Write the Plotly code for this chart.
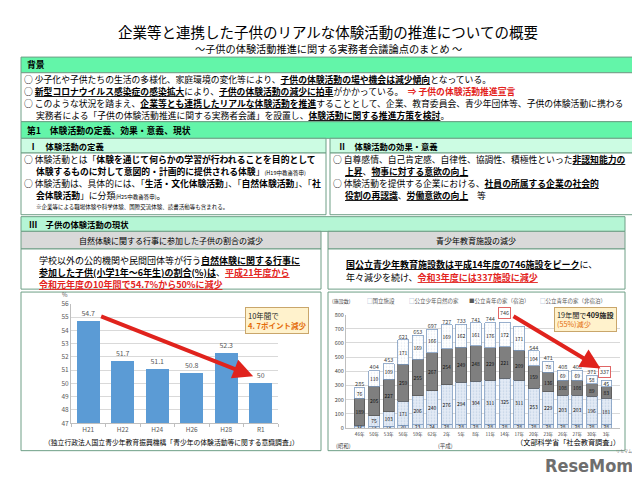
import plotly.graph_objects as go

W, H = 640, 478
FONT = "Noto Sans CJK JP"

# ---------------- data ----------------
years_left = ["H21", "H22", "H24", "H26", "H28", "R1"]
ratio_left = [54.7, 51.7, 51.1, 50.8, 52.3, 50]

years_right = ["46年", "50年", "53年", "56年", "59年", "62年", "2年", "5年", "8年", "11年",
               "14年", "17年", "20年", "23年", "26年", "27年", "30年", "3年"]
national = [9, 14, 14, 20, 23, 24, 28, 28, 28, 28, 28, 28, 28, 28, 28, 28, 28, 28]
nature_house = [11, 75, 103, 171, 206, 240, 276, 294, 304, 311, 325, 311, 253, 229, 203, 203, 196, 181]
youth_lodging = [189, 205, 227, 259, 255, 267, 254, 249, 248, 229, 221, 209, 159, 136, 108, 108, 89, 83]
youth_nonlodging = [76, 110, 109, 171, 169, 166, 169, 162, 161, 176, 172, 171, 104, 78, 69, 69, 58, 45]
total_shown = [True, True, True, True, True, True, True, True, True, True,
               False, False, True, True, True, True, True, False]
series_names = ["国立施設", "公立少年自然の家", "公立青年の家（宿泊）", "公立青年の家（非宿泊）"]
peak_idx, last_idx = 10, 17


def px(x):
    return x / W


def py(y):
    return 1 - y / H


fig = go.Figure()

# ---------------- left chart ----------------
fig.add_trace(go.Bar(
    x=years_left, y=ratio_left, xaxis="x", yaxis="y", width=0.67,
    marker=dict(color="#5B9BD5", line=dict(width=0)),
    text=[str(v) for v in ratio_left], textposition="outside", cliponaxis=False,
    constraintext="none",
    textfont=dict(family=FONT, size=7, color="#595959"), showlegend=False,
))

# ---------------- right chart ----------------
styles = [
    dict(color="#DCE6F2", line=dict(color="#7F9CC0", width=0.8)),
    dict(color="#DCE6F2", line=dict(color="#7F9CC0", width=0.8),
         pattern=dict(shape=".", fgcolor="#9FB6D6", bgcolor="#E3EBF5", size=3, solidity=0.25)),
    dict(color="#7F7F7F", line=dict(color="#595959", width=0.8)),
    dict(color="#FFFFFF", line=dict(color="#7F9CC0", width=0.8),
         pattern=dict(shape=".", fgcolor="#C5D3E6", bgcolor="#FFFFFF", size=3, solidity=0.2)),
]
for name, vals, st in zip(series_names, [national, nature_house, youth_lodging, youth_nonlodging], styles):
    fig.add_trace(go.Bar(
        x=years_right, y=vals, name=name, xaxis="x2", yaxis="y2", width=0.73,
        marker=st, text=[str(v) for v in vals], textposition="inside",
        insidetextanchor="middle", textangle=0,
        textfont=dict(family=FONT, size=5, color="#111111"), showlegend=False,
    ))

totals = [a + b + c + d for a, b, c, d in zip(national, nature_house, youth_lodging, youth_nonlodging)]
fig.add_trace(go.Scatter(
    x=years_right, y=totals, xaxis="x2", yaxis="y2", mode="text",
    text=[str(t) if s else "" for t, s in zip(totals, total_shown)],
    textposition="top center", textfont=dict(family=FONT, size=5.5, color="#404040"),
    showlegend=False, cliponaxis=False, hoverinfo="skip",
))

fig.update_layout(
    width=W, height=H, margin=dict(l=0, r=0, t=0, b=0),
    paper_bgcolor="white", plot_bgcolor="white", barmode="stack",
    font=dict(family=FONT),
    uniformtext=dict(minsize=5, mode="show"),
    xaxis=dict(domain=[px(63), px(270)], anchor="y", showline=True, linecolor="#BFBFBF",
               ticks="outside", tickson="boundaries", ticklen=3, tickcolor="#BFBFBF",
               tickfont=dict(size=6.5, color="#595959")),
    yaxis=dict(domain=[py(418), py(296)], anchor="x", range=[47, 56], dtick=1,
               showgrid=True, gridcolor="#D9D9D9", showline=True, linecolor="#BFBFBF",
               tickfont=dict(size=6.5, color="#595959"), zeroline=False),
    xaxis2=dict(domain=[px(338), px(612)], anchor="y2", showline=True, linecolor="#BFBFBF",
                tickfont=dict(size=4.6, color="#404040"), ticklabelstandoff=1),
    yaxis2=dict(domain=[py(423), py(307)], anchor="x2", range=[0, 800], dtick=100,
                showgrid=True, gridcolor="#D9D9D9", showline=True, linecolor="#BFBFBF",
                tickfont=dict(size=5.5, color="#404040"), zeroline=False),
)

GREEN = "#63F5A9"
PALE = "#CCFCE3"
MID = "#B5F6D5"
BORDER = "#6E9F86"


def rect(x0, y0, x1, y1, fill, line=BORDER, lw=1):
    fig.add_shape(type="rect", xref="paper", yref="paper", x0=px(x0), x1=px(x1),
                  y0=py(y1), y1=py(y0), fillcolor=fill, line=dict(color=line, width=lw),
                  layer="below")


def txt(x, y, s, size=8.8, color="#000000", xanchor="left"):
    fig.add_annotation(x=px(x), y=py(y), xref="paper", yref="paper", text=s, showarrow=False,
                       xanchor=xanchor, yanchor="middle", borderpad=0,
                       font=dict(family=FONT, size=size, color=color))


RED = "#E3231C"
ORANGE = "#E46C0A"

# boxes
rect(13, 44, 630, 60, GREEN)
rect(13, 60, 630, 110, "white")
rect(13, 110, 630, 127, GREEN)
rect(13, 127, 318, 142, PALE)
rect(322, 127, 630, 142, PALE)
rect(13, 142, 318, 205, "white")
rect(322, 142, 630, 205, "white")
rect(13, 207, 617, 222, MID)
rect(13, 222, 313, 240, "#D9D9D9")
rect(320, 222, 617, 240, "#D9D9D9")
rect(13, 240, 313, 281, "white")
rect(320, 240, 617, 281, "white")
rect(13, 284, 313, 446, "white")
rect(320, 284, 617, 446, "white")

# title
txt(320, 18, "企業等と連携した子供のリアルな体験活動の推進についての概要", size=14.5, xanchor="center")
txt(320, 35, "～子供の体験活動推進に関する実務者会議論点のまとめ ～", size=10.2, xanchor="center")

# 背景
txt(18, 52, "<b>背景</b>", size=8.8)
txt(15, 67.3, "○ 少子化や子供たちの生活の多様化、家庭環境の変化等により、<b><u>子供の体験活動の場や機会は減少傾向</u></b>となっている。")
txt(15, 79.2, "○ <b><u>新型コロナウイルス感染症の感染拡大</u></b>により、<b><u>子供の体験活動の減少に拍車</u></b>がかかっている。　"
    f"<span style='color:{RED}'><b>⇒ 子供の体験活動推進宣言</b></span>")
txt(15, 91.7, "○ このような状況を踏まえ、<b><u>企業等とも連携したリアルな体験活動を推進</u></b>することとして、企業、教育委員会、青少年団体等、子供の体験活動に携わる")
txt(27, 103.8, "実務者による「子供の体験活動推進に関する実務者会議」を設置し、<b><u>体験活動に関する推進方策を検討</u></b>。")

# 第1
txt(18, 119, "<b>第1　体験活動の定義、効果・意義、現状</b>", size=8.8)
txt(20, 134.5, "<b>Ⅰ　体験活動の定義</b>", size=8.3)
txt(329, 134.5, "<b>Ⅱ　体験活動の効果・意義</b>", size=8.3)

txt(15, 149, "○ 体験活動とは「<b>体験を通じて何らかの学習が行われることを目的として</b>")
txt(27, 161, "<b>体験するものに対して意図的・計画的に提供される体験</b>」<span style='font-size:5.5px'>(H19中教審答申)</span>")
txt(15, 173, "○ 体験活動は、具体的には、「<b>生活・文化体験活動</b>」、「<b>自然体験活動</b>」、「<b>社</b>")
txt(27, 185, "<b>会体験活動</b>」に分類<span style='font-size:5.5px'>(H25中教審答申)</span>。")
txt(27, 197, "※企業等による職場体験や科学体験、国際交流体験、読書活動等も含まれる。", size=5.5)

txt(324, 149, "○ 自尊感情、自己肯定感、自律性、協調性、積極性といった<b><u>非認知能力の</u></b>")
txt(336, 161, "<b><u>上昇</u></b>、<b><u>物事に対する意欲の向上</u></b>")
txt(324, 173, "○ 体験活動を提供する企業における、<b><u>社員の所属する企業の社会的</u></b>")
txt(336, 185, "<b><u>役割の再認識</u></b>、<b><u>労働意欲の向上</u></b>　等")

# Ⅲ
txt(20, 214.5, "<b>Ⅲ　子供の体験活動の現状</b>", size=8.3)
txt(163, 231, "自然体験に関する行事に参加した子供の割合の減少", size=8, xanchor="center")
txt(468, 231, "青少年教育施設の減少", size=8, xanchor="center")

txt(30, 252, "学校以外の公的機関や民間団体等が行う<b><u>自然体験に関する行事に</u></b>", size=9)
txt(30, 264, f"<b><u>参加した子供(小学1年～6年生)の割合(%)は</u></b>、<span style='color:{RED}'><b><u>平成21年度から</u></b></span>", size=9)
txt(30, 276, f"<span style='color:{RED}'><b><u>令和元年度の10年間で54.7%から50%に減少</u></b></span>", size=9)

txt(337, 256, "<b><u>国公立青少年教育施設数は平成14年度の746施設をピーク</u></b>に、", size=9)
txt(337, 269, f"年々減少を続け、<span style='color:{RED}'><b><u>令和3年度には337施設に減少</u></b></span>", size=9)

# left chart extras
txt(57, 287, "%", size=6, color="#595959", xanchor="center")
fig.add_annotation(x=4.78, y=50.54, xref="x", yref="y", ax=0.33, ay=55.09, axref="x", ayref="y",
                   text="", showarrow=True, arrowhead=2, arrowsize=1, arrowwidth=4, arrowcolor="#E0231D")
fig.add_annotation(x=px(237), y=py(313.5), xref="paper", yref="paper", xanchor="left", yanchor="middle",
                   text=f"10年間で<br><span style='color:{ORANGE}'><b>4. 7ポイント減少</b></span>",
                   showarrow=False, align="left", bgcolor="#FFF2CC", bordercolor="#C9A66B",
                   borderwidth=1, borderpad=2, font=dict(family=FONT, size=7.5, color="#222222"))
txt(163, 437, "（独立行政法人国立青少年教育振興機構「青少年の体験活動等に関する意識調査」）", size=6.8,
    xanchor="center")

# right chart extras
txt(323, 293, "(施設数)", size=5, color="#404040")
legend_x = [358, 400, 460, 531]
legend_sym = ["□", "□", "■", "□"]
legend_col = ["#7F9CC0", "#7F9CC0", "#595959", "#7F9CC0"]
for lx, sym, col, nm in zip(legend_x, legend_sym, legend_col, series_names):
    txt(lx, 293, f"<span style='color:{col}'>{sym}</span>{nm}", size=5.5, color="#595959")

fig.add_annotation(x=years_right[peak_idx], y=totals[peak_idx], xref="x2", yref="y2",
                   text=str(totals[peak_idx]), showarrow=False, yshift=9, yanchor="middle",
                   bordercolor="#E06666", borderwidth=1, borderpad=1, bgcolor="white",
                   font=dict(family=FONT, size=5.5, color="#404040"))
fig.add_annotation(x=years_right[last_idx], y=totals[last_idx], xref="x2", yref="y2",
                   text=str(totals[last_idx]), showarrow=False, yshift=8, xshift=-2, yanchor="middle",
                   bordercolor="#E06666", borderwidth=1, borderpad=1, bgcolor="white",
                   font=dict(family=FONT, size=5.5, color="#404040"))
fig.add_annotation(x=16.6, y=421, xref="x2", yref="y2", ax=10.5, ay=795, axref="x2", ayref="y2",
                   text="", showarrow=True, arrowhead=2, arrowsize=1, arrowwidth=4, arrowcolor="#E0231D")
fig.add_annotation(x=px(546), y=py(312.5), xref="paper", yref="paper", xanchor="left", yanchor="middle",
                   text=f"19年間で<b>409施設</b><br><span style='color:{ORANGE}'>(55%)減少</span>",
                   showarrow=False, align="left", bgcolor="#FFF2CC", bordercolor="#C9A66B",
                   borderwidth=1, borderpad=2, font=dict(family=FONT, size=7.2, color="#222222"))
txt(335, 441, "(昭和)", size=5.5, color="#404040", xanchor="center")
txt(437, 441, "(平成)", size=5.5, color="#404040", xanchor="center")
txt(613, 437, "（文部科学省「社会教育調査」）", size=7.2, xanchor="right")

# logo
fig.add_annotation(x=px(627), y=py(461), xref="paper", yref="paper", xanchor="right", yanchor="middle",
                   text="<b>ReseMom</b>", showarrow=False,
                   font=dict(family="DejaVu Sans Condensed, Liberation Sans Narrow, Roboto, sans-serif",
                             size=18, color="#6E6E6E"))
txt(625, 446, "リセマム", size=4, color="#6E6E6E", xanchor="right")

fig.write_html("out.html")
